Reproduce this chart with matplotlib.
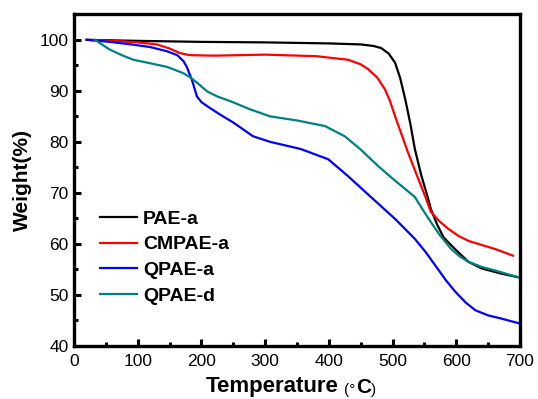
import matplotlib
matplotlib.use("Agg")
import matplotlib.pyplot as plt
from matplotlib.ticker import MultipleLocator

plt.rcParams['font.family'] = ['Liberation Sans', 'DejaVu Sans']

pae_a_T = [20, 100, 200, 300, 400, 450, 470, 482, 494, 504, 512, 520, 528, 535, 545, 556, 560, 570, 580, 598, 619, 640, 670, 700]
pae_a_W = [100, 99.8, 99.6, 99.5, 99.3, 99.1, 98.8, 98.4, 97.3, 95.5, 92.5, 88.3, 83.5, 78.6, 73.5, 68.8, 66.9, 63.8, 61.3, 59.0, 56.5, 55.2, 54.2, 53.4]

cmpae_a_T = [20, 60, 100, 130, 150, 166, 182, 220, 300, 380, 430, 450, 462, 476, 488, 496, 504, 514, 524, 538, 551, 560, 573, 587, 603, 619, 640, 661, 689]
cmpae_a_W = [100, 99.8, 99.5, 99.1, 98.3, 97.4, 97.0, 96.9, 97.1, 96.8, 96.1, 95.2, 94.2, 92.6, 90.3, 88.0, 85.0, 81.5, 78.0, 73.5, 69.4, 66.3, 64.5, 63.0, 61.6, 60.6, 59.8, 59.0, 57.7]

qpae_a_T = [20, 56, 90, 119, 145, 162, 172, 177, 185, 193, 200, 209, 230, 250, 281, 308, 356, 399, 430, 466, 504, 535, 552, 567, 583, 598, 615, 630, 650, 670, 700]
qpae_a_W = [100, 99.6, 99.1, 98.6, 97.8, 97.0, 95.8, 94.7, 92.2, 88.9, 87.8, 87.0, 85.3, 83.8, 81.1, 80.0, 78.6, 76.6, 73.3, 69.2, 64.9, 61.0, 58.4, 55.8, 53.0, 50.7, 48.5, 47.0, 46.0, 45.4, 44.4]

qpae_d_T = [33, 56, 75, 93, 120, 146, 171, 183, 193, 209, 225, 245, 276, 308, 350, 394, 425, 450, 477, 505, 535, 548, 560, 575, 592, 605, 619, 640, 661, 680, 700]
qpae_d_W = [100, 98.1, 97.0, 96.1, 95.4, 94.7, 93.5, 92.6, 91.6, 89.9, 88.9, 88.0, 86.4, 85.0, 84.2, 83.1, 81.1, 78.5, 75.3, 72.3, 69.2, 66.6, 64.3, 61.6, 59.0, 57.6, 56.5, 55.5, 54.8, 54.1, 53.4]

series = [
    ("PAE-a", pae_a_T, pae_a_W, "black"),
    ("CMPAE-a", cmpae_a_T, cmpae_a_W, "#ff0000"),
    ("QPAE-a", qpae_a_T, qpae_a_W, "#0000ff"),
    ("QPAE-d", qpae_d_T, qpae_d_W, "#008080"),
]

fig = plt.figure(figsize=(5.38, 3.99), dpi=100)
ax = fig.add_axes([0.1375, 0.1328, 0.829, 0.8322])

for name, T, W, c in series:
    ax.plot(T, W, color=c, lw=1.6, label=name, solid_joinstyle='round')

ax.set_xlim(0, 700)
ax.set_ylim(40, 105.07)
ax.xaxis.set_major_locator(MultipleLocator(100))
ax.xaxis.set_minor_locator(MultipleLocator(50))
ax.yaxis.set_major_locator(MultipleLocator(10))
ax.yaxis.set_minor_locator(MultipleLocator(5))
ax.set_yticks([40, 50, 60, 70, 80, 90, 100])
ax.tick_params(which='major', direction='in', length=5, width=2.2, labelsize=12.5, pad=6)
ax.tick_params(axis='y', which='major', pad=4)
ax.tick_params(which='minor', direction='in', length=3, width=2.2)
for s in ax.spines.values():
    s.set_linewidth(2.4)

ax.set_ylabel("Weight(%)", fontsize=15, fontweight='bold', labelpad=5)
xl = ax.set_xlabel("Temperature", fontsize=16, fontweight='bold', labelpad=5)
xl.set_x(0.445)
t1 = ax.annotate("(\u00b0", xy=(1.0, 0.0), xycoords=xl, xytext=(4, 0), textcoords='offset points',
                 fontsize=11, va='bottom', ha='left')
t2 = ax.annotate("C", xy=(1.0, 0.0), xycoords=t1, xytext=(0, 0), textcoords='offset points',
                 fontsize=15, fontweight='bold', va='bottom', ha='left')
ax.annotate(")", xy=(1.0, 0.0), xycoords=t2, xytext=(0, 0), textcoords='offset points',
            fontsize=11, va='bottom', ha='left')

leg = ax.legend(loc='upper left', bbox_to_anchor=(0.02, 0.462), frameon=False,
                handlelength=1.9, handletextpad=0.3, labelspacing=0.42,
                prop={'weight': 'bold', 'size': 14})

fig.savefig("out.png", dpi=100)
